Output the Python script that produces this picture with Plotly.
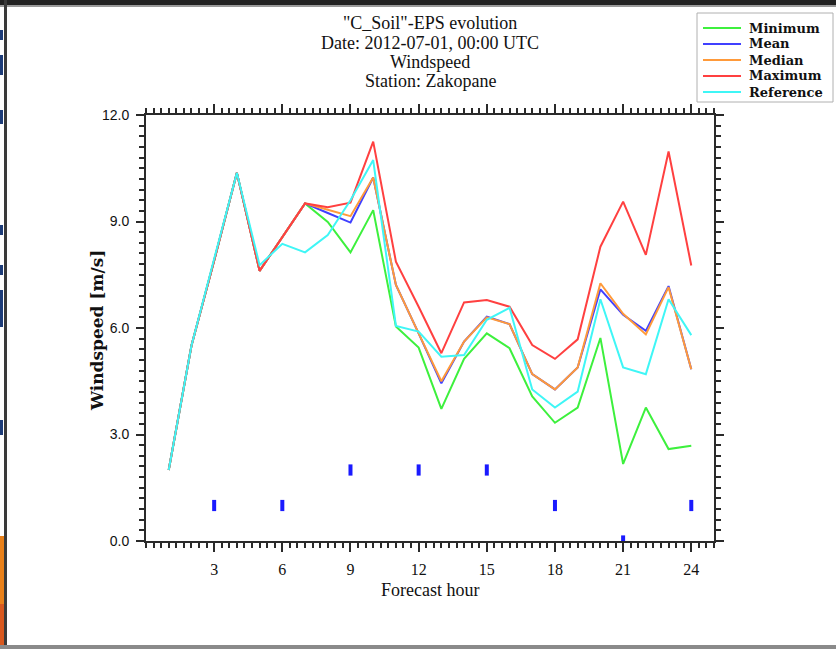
import plotly.graph_objects as go

# ---------------- data ----------------
hours = list(range(1, 25))
minimum = [2.0, 5.5, 7.9, 10.37, 7.61, 8.57, 9.51, 8.99, 8.13, 9.32, 6.04, 5.45,
           3.72, 5.13, 5.85, 5.43, 4.07, 3.33, 3.76, 5.72, 2.17, 3.76, 2.59, 2.68]
mean = [2.0, 5.5, 7.9, 10.37, 7.61, 8.57, 9.51, 9.24, 8.97, 10.24, 7.21, 5.85,
        4.44, 5.62, 6.32, 6.11, 4.70, 4.27, 4.89, 7.09, 6.37, 5.92, 7.18, 4.84]
median = [2.0, 5.5, 7.9, 10.37, 7.61, 8.57, 9.51, 9.33, 9.15, 10.24, 7.21, 5.85,
          4.50, 5.62, 6.30, 6.11, 4.70, 4.27, 4.89, 7.26, 6.40, 5.82, 7.15, 4.84]
maximum = [2.0, 5.5, 7.9, 10.37, 7.61, 8.57, 9.51, 9.40, 9.53, 11.25, 7.87, 6.60,
           5.29, 6.72, 6.79, 6.60, 5.52, 5.13, 5.68, 8.29, 9.56, 8.06, 10.97, 7.76]
reference = [2.0, 5.5, 7.95, 10.37, 7.77, 8.37, 8.13, 8.62, 9.60, 10.73, 6.06, 5.90,
             5.19, 5.24, 6.23, 6.57, 4.27, 3.76, 4.21, 6.81, 4.89, 4.70, 6.81, 5.80]

marker_hours = [3, 6, 9, 12, 15, 18, 21, 24]
marker_vals = [1, 1, 2, 2, 2, 1, 0, 1]

series_names = ["Minimum", "Mean", "Median", "Maximum", "Reference"]
series_vals = [minimum, mean, median, maximum, reference]
series_colors = ["#3df03d", "#4040ff", "#ff9a3a", "#ff4040", "#3ff6f6"]

x_tickvals = [3, 6, 9, 12, 15, 18, 21, 24]
title_lines = ['"C_Soil"-EPS evolution', "Date: 2012-07-01, 00:00 UTC",
               "Windspeed", "Station: Zakopane"]
x_title = "Forecast hour"
y_title = "Windspeed [m/s]"

# ---------------- layout helpers ----------------
W, H = 836, 649
L, R, T, B = 146, 714, 115, 541


def px(x):
    return (x - L) / (R - L)


def py(y):
    return (B - y) / (B - T)


fig = go.Figure()
for name, vals, col in zip(series_names, series_vals, series_colors):
    fig.add_trace(go.Scatter(x=hours, y=vals, mode="lines", name=name,
                             line=dict(color=col, width=2), showlegend=False))

fig.add_trace(go.Scatter(x=marker_hours, y=marker_vals, mode="markers",
                         marker=dict(symbol="line-ns", size=8,
                                     line=dict(color="#1a1aff", width=4)),
                         showlegend=False))

axis_col = "#2a2a2a"
fig.update_xaxes(range=[0, 25], tickmode="array", tickvals=x_tickvals,
                 ticks="outside", ticklen=9, tickwidth=1.5, tickcolor=axis_col,
                 showline=True, linecolor=axis_col, linewidth=2, mirror="ticks",
                 showgrid=False, zeroline=False,
                 minor=dict(dtick=1 / 3, tick0=0, ticks="outside", ticklen=5,
                            tickwidth=1.5, tickcolor=axis_col, showgrid=False),
                 tickfont=dict(family="Liberation Serif", size=16, color="#111"),
                 ticklabelstandoff=4)
fig.update_yaxes(range=[0, 12], tick0=0, dtick=3, tickformat=".1f",
                 ticks="outside", ticklen=8, tickwidth=1.5, tickcolor=axis_col,
                 showline=True, linecolor=axis_col, linewidth=2, mirror="ticks",
                 showgrid=False, zeroline=False,
                 minor=dict(dtick=0.3, tick0=0, ticks="outside", ticklen=5,
                            tickwidth=1.5, tickcolor=axis_col, showgrid=False),
                 tickfont=dict(family="Liberation Sans", size=14, color="#111"),
                 ticklabelstandoff=4)

annotations = []
# axis titles placed precisely
annotations.append(dict(text="<b>" + y_title + "</b>", x=px(97), y=py(331),
                        xref="paper", yref="paper", xanchor="center", yanchor="middle",
                        textangle=-90, showarrow=False,
                        font=dict(family="DejaVu Serif", size=17, color="#111")))
annotations.append(dict(text=x_title, x=px(430), y=py(590),
                        xref="paper", yref="paper", xanchor="center", yanchor="middle",
                        showarrow=False, borderpad=0,
                        font=dict(family="Liberation Serif", size=18, color="#111")))
title_y = [23, 43, 62, 81]
for txt, yy in zip(title_lines, title_y):
    annotations.append(dict(text=txt, x=px(430), y=py(yy), xref="paper", yref="paper",
                            xanchor="center", yanchor="middle", showarrow=False,
                            font=dict(family="Liberation Serif", size=18, color="#111")))

shapes = []
# legend box
shapes.append(dict(type="rect", xref="paper", yref="paper", x0=px(697), x1=px(833),
                   y0=py(13), y1=py(102), line=dict(color="#b0b0b0", width=1),
                   fillcolor="white", layer="above"))
leg_y = [28, 44, 60, 76, 92]
for name, col, yy in zip(series_names, series_colors, leg_y):
    shapes.append(dict(type="line", xref="paper", yref="paper", x0=px(703), x1=px(741),
                       y0=py(yy), y1=py(yy), line=dict(color=col, width=2), layer="above"))
    annotations.append(dict(text="<b>" + name + "</b>", x=px(748), y=py(yy),
                            xref="paper", yref="paper", xanchor="left", yanchor="middle",
                            showarrow=False, borderpad=0,
                            font=dict(family="DejaVu Serif", size=13, color="#111")))

# slide frame decorations
shapes.append(dict(type="rect", xref="paper", yref="paper", x0=px(0), x1=px(W),
                   y0=py(0), y1=py(5), line=dict(width=0), fillcolor="#222", layer="above"))
shapes.append(dict(type="rect", xref="paper", yref="paper", x0=px(0), x1=px(W),
                   y0=py(5), y1=py(7), line=dict(width=0), fillcolor="#9a9a9a", layer="above"))
shapes.append(dict(type="rect", xref="paper", yref="paper", x0=px(4), x1=px(7),
                   y0=py(0), y1=py(646), line=dict(width=0), fillcolor="#3a3a3a", layer="above"))
shapes.append(dict(type="rect", xref="paper", yref="paper", x0=px(0), x1=px(W),
                   y0=py(645), y1=py(H), line=dict(width=0), fillcolor="#8a8a8a", layer="above"))
shapes.append(dict(type="rect", xref="paper", yref="paper", x0=px(0), x1=px(4),
                   y0=py(536), y1=py(604), line=dict(width=0), fillcolor="#e8801a", layer="above"))
shapes.append(dict(type="rect", xref="paper", yref="paper", x0=px(0), x1=px(4),
                   y0=py(604), y1=py(645), line=dict(width=0), fillcolor="#d8581e", layer="above"))
for y0, y1 in [(30, 40), (55, 75), (110, 124), (225, 235), (265, 275), (290, 327), (420, 435)]:
    shapes.append(dict(type="rect", xref="paper", yref="paper", x0=px(0), x1=px(3),
                       y0=py(y0), y1=py(y1), line=dict(width=0), fillcolor="#1d3c78",
                       layer="above"))

fig.update_layout(width=W, height=H, autosize=False,
                  margin=dict(l=L, r=W - R, t=T, b=H - B, pad=0),
                  paper_bgcolor="white", plot_bgcolor="white",
                  showlegend=False, annotations=annotations, shapes=shapes)

fig.write_html("out.html")
